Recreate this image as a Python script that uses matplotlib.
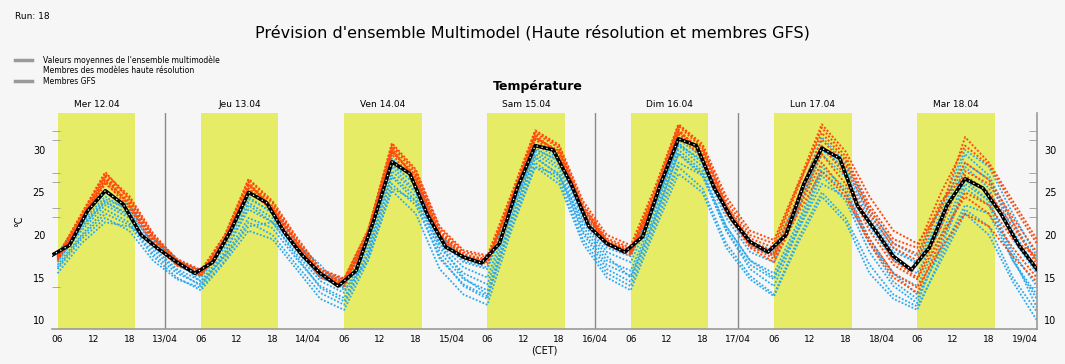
"""Prévision d'ensemble multimodèle : météogramme de température sur 7 jours.

Members are read off the reference meteogram at 4 h steps, the ensemble mean
at 3 h steps (hours counted from Wednesday 00 UTC).
"""

import matplotlib

matplotlib.use("Agg")
import matplotlib.pyplot as plt
import numpy as np
from matplotlib.lines import Line2D

HOURS_MEAN = np.arange(5, 171, 3)
MEAN = [
    17.6, 18.8, 22.8, 25.2, 23.6, 20.0, 18.3,
    16.8, 15.5, 16.8, 20.5, 25.0, 23.8, 20.3, 17.6,
    15.5, 14.0, 15.8, 21.8, 28.6, 27.2, 22.3, 18.6,
    17.4, 16.7, 19.0, 25.5, 30.5, 30.0, 26.0, 21.0,
    19.0, 18.0, 19.8, 26.0, 31.3, 30.5, 25.5, 21.8,
    19.2, 18.0, 20.0, 26.0, 30.2, 29.0, 23.4, 20.5,
    17.5, 15.9, 18.5, 23.5, 26.6, 25.5, 22.5, 18.8,
    16.0,
]

HOURS_MEMBERS = np.arange(6, 171, 4)
RED_MEMBERS = [
    [17.5, 22.5, 27.4, 24.2, 19.8, 17.0, 15.8, 20.0, 26.5, 23.8, 19.2,
     15.8, 14.8, 20.5, 30.4, 27.2, 20.3, 17.6, 17.2, 24.5, 32.0, 30.2, 23.2,
     19.2, 18.2, 25.0, 32.8, 30.2, 23.5, 19.6, 18.5, 25.5, 32.6, 29.2, 23.5,
     19.5, 18.5, 25.0, 30.5, 28.2, 23.5, 19.0],
    [17.4, 22.0, 26.6, 23.6, 19.5, 16.8, 15.6, 19.5, 26.0, 23.2, 19.0,
     15.5, 14.5, 20.0, 30.0, 26.6, 20.0, 17.5, 17.0, 24.0, 31.6, 29.6, 23.0,
     19.2, 18.0, 24.5, 32.4, 29.6, 23.2, 19.3, 18.0, 24.5, 31.2, 28.2, 22.5,
     18.5, 17.0, 23.5, 28.5, 26.5, 22.0, 18.0],
    [17.2, 21.5, 26.4, 24.0, 19.8, 16.7, 15.5, 19.2, 25.8, 23.4, 19.3,
     15.4, 14.3, 19.8, 29.8, 27.0, 20.5, 17.8, 17.0, 23.8, 31.4, 29.9, 23.4,
     19.4, 18.3, 24.3, 32.2, 29.9, 23.5, 19.0, 17.5, 23.5, 29.5, 26.0, 20.5,
     16.5, 14.8, 20.0, 24.5, 22.5, 18.5, 15.0],
    [17.6, 22.2, 27.0, 23.4, 19.2, 16.5, 15.3, 19.8, 26.2, 23.0, 18.8,
     15.3, 14.2, 20.2, 30.2, 26.4, 19.8, 17.3, 16.8, 24.2, 31.8, 29.4, 22.8,
     19.0, 17.8, 24.2, 32.0, 29.4, 22.8, 18.8, 17.2, 23.0, 28.5, 25.0, 19.5,
     15.5, 13.8, 18.5, 22.5, 21.0, 17.5, 14.5],
    [17.3, 21.8, 26.8, 24.4, 20.0, 17.2, 15.9, 19.6, 25.9, 23.8, 19.6,
     16.0, 14.9, 20.6, 30.6, 27.5, 20.8, 18.0, 17.4, 24.6, 32.2, 30.4, 23.6,
     19.6, 18.5, 25.2, 33.0, 30.4, 24.0, 20.0, 19.0, 25.8, 32.0, 28.8, 23.0,
     19.0, 17.8, 24.0, 27.0, 25.0, 21.0, 17.0],
    [17.5, 22.0, 26.2, 23.2, 19.0, 16.4, 15.2, 19.0, 25.4, 22.8, 18.6,
     15.0, 14.0, 19.6, 29.5, 26.2, 19.6, 17.2, 16.6, 23.6, 31.2, 29.2, 22.6,
     18.8, 17.6, 23.8, 31.8, 29.0, 22.6, 18.5, 16.8, 22.5, 27.5, 24.5, 19.0,
     15.0, 13.2, 19.5, 25.0, 23.5, 19.5, 17.5],
    [17.4, 22.4, 27.2, 24.6, 20.2, 17.0, 15.7, 19.9, 26.6, 24.0, 19.8,
     16.0, 14.7, 20.4, 30.8, 27.7, 21.0, 18.2, 17.6, 24.8, 32.3, 30.6, 24.0,
     20.0, 18.8, 25.5, 33.0, 30.7, 24.5, 20.5, 19.4, 26.0, 33.0, 29.8, 24.5,
     20.5, 19.0, 23.0, 31.5, 28.5, 24.0, 19.5],
    [17.0, 21.6, 26.0, 23.8, 19.6, 16.6, 15.4, 19.4, 25.5, 23.2, 19.0,
     15.6, 14.4, 20.0, 29.8, 26.8, 20.2, 17.6, 17.1, 24.0, 31.3, 29.8, 23.1,
     19.1, 18.1, 24.6, 32.2, 29.6, 23.0, 19.0, 17.7, 24.0, 30.5, 27.0, 21.5,
     17.0, 15.0, 21.0, 27.5, 26.0, 21.5, 16.5],
]
BLUE_MEMBERS = [
    [16.0, 19.5, 22.0, 20.5, 17.0, 14.8, 13.8, 17.0, 21.5, 20.0, 16.5,
     13.2, 11.8, 17.5, 26.0, 23.5, 17.5, 14.0, 12.5, 21.5, 28.5, 26.5, 19.5,
     15.5, 14.0, 21.0, 28.0, 25.5, 19.0, 15.2, 13.0, 19.5, 25.0, 22.0, 16.5,
     13.0, 11.6, 17.0, 22.5, 20.0, 14.5, 10.0],
    [17.0, 20.5, 23.5, 22.0, 18.5, 16.0, 14.6, 18.0, 23.0, 21.5, 17.8,
     14.6, 13.2, 18.5, 27.5, 25.0, 18.5, 15.5, 14.2, 22.5, 29.5, 27.8, 21.0,
     17.0, 15.8, 22.5, 30.0, 27.5, 21.0, 17.0, 15.5, 21.5, 28.0, 25.5, 19.5,
     15.5, 14.0, 20.0, 26.5, 24.0, 18.0, 14.0],
    [17.6, 21.5, 24.5, 22.8, 19.0, 16.5, 15.2, 18.8, 24.5, 22.5, 18.5,
     15.0, 14.0, 19.2, 28.5, 25.8, 19.4, 16.8, 16.0, 23.2, 30.2, 28.6, 22.2,
     18.5, 17.5, 23.5, 30.8, 28.5, 22.5, 18.6, 17.6, 23.5, 30.5, 27.5, 22.0,
     18.0, 16.8, 22.5, 29.5, 27.0, 21.5, 17.0],
    [15.5, 19.0, 21.5, 21.0, 19.5, 17.0, 14.5, 17.5, 21.0, 21.5, 19.0,
     16.5, 13.5, 17.0, 25.5, 24.0, 19.0, 15.0, 13.0, 21.0, 28.0, 27.0, 21.5,
     17.5, 15.0, 21.5, 28.5, 27.0, 21.0, 17.0, 15.0, 20.5, 26.0, 24.5, 19.0,
     15.5, 13.0, 18.0, 23.5, 22.5, 17.0, 12.5],
    [16.5, 20.0, 23.0, 21.5, 17.8, 15.5, 14.2, 17.5, 22.0, 20.8, 17.2,
     14.0, 12.6, 18.0, 27.0, 24.5, 18.0, 14.8, 13.5, 22.0, 29.0, 27.2, 20.5,
     16.5, 15.2, 22.0, 29.5, 27.0, 20.5, 16.5, 14.8, 21.0, 27.5, 25.0, 19.0,
     14.5, 12.5, 18.5, 25.5, 23.5, 17.0, 13.0],
    [17.8, 22.0, 25.0, 23.5, 19.5, 17.0, 15.8, 19.5, 25.2, 23.0, 19.0,
     15.8, 14.6, 19.8, 29.0, 26.5, 20.0, 17.5, 16.8, 23.8, 30.6, 29.0, 22.8,
     19.0, 18.0, 24.0, 31.2, 29.2, 23.0, 19.2, 18.2, 24.2, 31.5, 28.5, 23.0,
     19.0, 17.5, 23.5, 30.0, 28.0, 22.5, 17.5],
    [16.8, 20.8, 24.0, 22.2, 18.2, 15.8, 14.0, 17.8, 23.5, 21.5, 17.5,
     13.8, 12.2, 17.8, 26.8, 24.0, 17.2, 14.2, 12.8, 21.8, 29.2, 27.0, 20.2,
     16.0, 14.5, 21.8, 29.6, 27.2, 20.5, 16.0, 14.0, 20.5, 27.0, 24.0, 18.0,
     14.0, 12.0, 19.0, 26.0, 24.0, 17.5, 11.5],
    [17.2, 21.0, 23.8, 22.5, 19.0, 16.5, 15.0, 18.5, 23.8, 22.0, 18.2,
     15.0, 13.8, 18.8, 28.0, 25.2, 19.0, 16.2, 15.0, 22.8, 29.8, 28.2, 21.8,
     18.0, 16.8, 23.0, 30.5, 28.0, 22.0, 18.0, 16.8, 22.8, 29.5, 26.8, 21.0,
     17.0, 15.5, 21.0, 28.0, 25.5, 19.5, 15.5],
    [16.2, 19.8, 22.5, 21.2, 17.5, 15.0, 13.5, 16.8, 20.5, 19.5, 16.0,
     12.5, 11.2, 17.0, 25.2, 22.5, 16.0, 13.0, 11.8, 20.5, 28.0, 26.0, 19.0,
     15.0, 13.5, 20.5, 27.2, 25.0, 18.5, 14.8, 12.8, 19.0, 24.5, 21.5, 15.5,
     12.5, 11.2, 17.5, 23.0, 21.0, 15.0, 11.0],
    [17.4, 21.2, 24.2, 23.0, 19.8, 17.2, 15.6, 19.0, 24.2, 22.8, 19.2,
     15.8, 14.4, 19.5, 28.2, 26.0, 19.8, 17.0, 16.2, 23.0, 30.0, 28.8, 22.5,
     18.8, 17.8, 23.2, 30.6, 28.8, 22.8, 18.8, 17.8, 23.0, 30.0, 27.8, 22.5,
     18.5, 16.5, 22.0, 28.5, 26.5, 20.5, 16.0],
]

DAY_LABELS = ["Mer 12.04", "Jeu 13.04", "Ven 14.04", "Sam 15.04",
              "Dim 16.04", "Lun 17.04", "Mar 18.04"]
HOUR_LABELS = ["06", "12", "18"]
DATE_LABELS = ["13/04", "14/04", "15/04", "16/04", "17/04", "18/04", "19/04"]
Y_TICKS = [10, 15, 20, 25, 30]
Y_MINOR = [13.9, 22.1, 23.2, 26.2, 27.3, 31.2, 32.2]
RUN_BREAKS = [24, 96, 120]  # h

LEGEND_TEXT = [
    "Valeurs moyennes de l'ensemble multimodèle",
    "Membres des modèles haute résolution",
    "Membres GFS",
]

BG = "#f6f6f6"
YELLOW = "#e6ec66"
RED = "#ff4a0c"
BLUE = "#2aa9ee"


def plot(out_path: str) -> None:
    fig = plt.figure(figsize=(10.65, 3.64), dpi=100, facecolor=BG)
    ax = fig.add_axes([0.049, 0.096, 0.925, 0.594], facecolor=BG)

    n_days = len(DAY_LABELS)
    for d in range(n_days):
        ax.axvspan(24 * d + 6, 24 * d + 19, color=YELLOW, lw=0, zorder=0)
        ax.text(24 * d + 12.5, 1.02, DAY_LABELS[d], transform=ax.get_xaxis_transform(),
                ha="center", va="bottom", fontsize=6.5)
    for b in RUN_BREAKS:
        ax.axvline(b, color="#8a8a8a", lw=1, zorder=1)

    for m in BLUE_MEMBERS:
        ax.plot(HOURS_MEMBERS, m, color=BLUE, lw=1.3, ls=(0, (1, 1)), zorder=2)
    for m in RED_MEMBERS:
        ax.plot(HOURS_MEMBERS, m, color=RED, lw=1.4, ls=(0, (1, 1)), zorder=3)
    ax.plot(HOURS_MEAN, MEAN, color="black", lw=2.6, zorder=4)
    ax.plot(HOURS_MEAN, MEAN, color="white", lw=0.9, ls=(0, (1, 3)), zorder=5)

    ax.set_xlim(5.1, 170.1)
    ax.set_ylim(8.95, 34.35)

    ticks, labels = [], []
    for d in range(n_days):
        for h, lab in zip((6, 12, 18), HOUR_LABELS):
            ticks.append(24 * d + h)
            labels.append(lab)
        ticks.append(24 * (d + 1))
        labels.append(DATE_LABELS[d])
    ax.set_xticks(ticks, labels, fontsize=6.5)
    ax.tick_params(axis="x", length=0, pad=4)
    ax.set_xlabel("(CET)", fontsize=7, labelpad=1)

    ax.set_yticks(Y_TICKS, [str(v) for v in Y_TICKS], fontsize=7)
    ax.set_yticks(Y_MINOR, minor=True)
    ax.tick_params(axis="y", which="major", length=0, pad=5,
                   left=True, right=True, labelleft=True, labelright=True)
    ax.tick_params(axis="y", which="minor", length=6, color="#9a9a9a",
                   direction="in", left=True, right=True)
    ax.set_ylabel("°C", fontsize=7, labelpad=6)

    for side in ("top", "left"):
        ax.spines[side].set_visible(False)
    for side in ("bottom", "right"):
        ax.spines[side].set_color("#9a9a9a")
        ax.spines[side].set_linewidth(1.2)

    fig.text(0.014, 0.955, "Run: 18", fontsize=6.5, va="center")
    fig.text(0.5, 0.909, "Prévision d'ensemble Multimodel (Haute résolution et membres GFS)",
             ha="center", va="center", fontsize=11.5)
    fig.text(0.505, 0.761, "Température", ha="center", va="center",
             fontsize=9, fontweight="bold")

    rows_y = [0.835, 0.805, 0.777]
    for i, (txt, y) in enumerate(zip(LEGEND_TEXT, rows_y)):
        if i != 1:
            fig.add_artist(Line2D([0.014, 0.030], [y, y], color="#9a9a9a", lw=2.5,
                                  transform=fig.transFigure))
        fig.text(0.040, y, txt, fontsize=5.5, va="center")

    fig.savefig(out_path, dpi=100, facecolor=BG)


def main() -> None:
    plot("out.png")


if __name__ == "__main__":
    main()
